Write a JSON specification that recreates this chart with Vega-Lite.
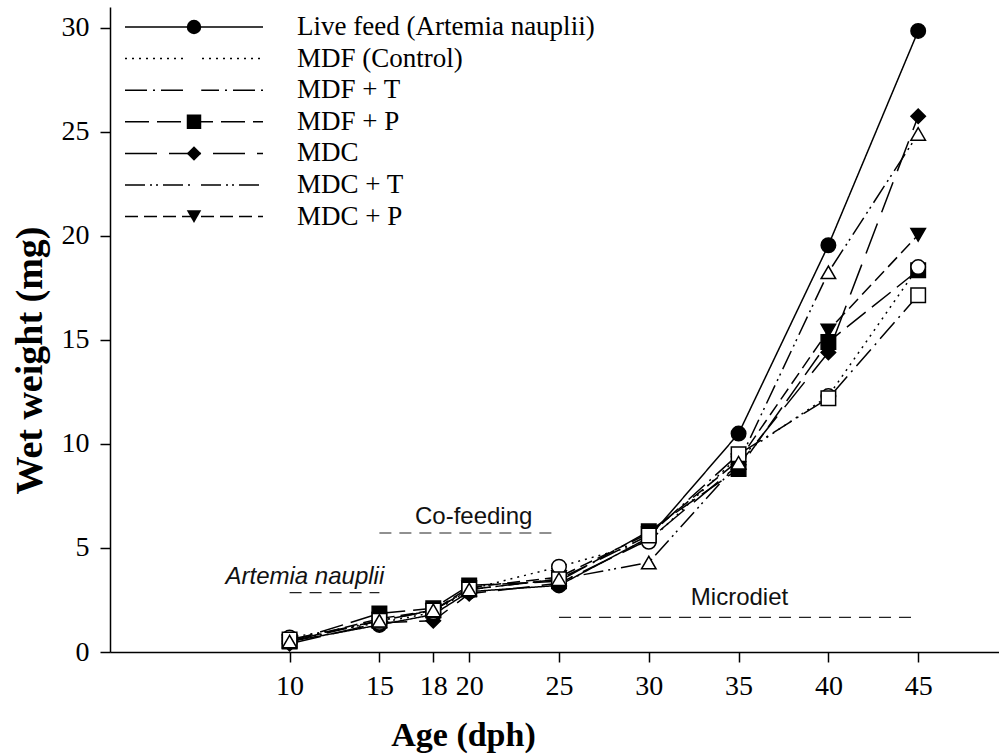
{
  "$schema": "https://vega.github.io/schema/vega-lite/v6.json",
  "width": 889,
  "height": 645,
  "autosize": {"type": "none"},
  "padding": {"left": 110, "top": 7, "right": 0, "bottom": 103},
  "background": "white",
  "config": {
    "view": {"stroke": null},
    "axis": {"grid": false, "domainColor": "black", "tickColor": "black", "domainWidth": 1.5, "tickWidth": 1.5, "labelColor": "black", "titleColor": "black", "labelFont": "Liberation Serif", "titleFont": "Liberation Serif"}
  },
  "resolve": {"scale": {"shape": "independent"}, "legend": {"shape": "independent"}},
  "datasets": {
    "growth": [
      {"age": 10, "weight": 0.5, "series": "Live feed (Artemia nauplii)"},
      {"age": 15, "weight": 1.3, "series": "Live feed (Artemia nauplii)"},
      {"age": 18, "weight": 1.8, "series": "Live feed (Artemia nauplii)"},
      {"age": 20, "weight": 2.9, "series": "Live feed (Artemia nauplii)"},
      {"age": 25, "weight": 3.2, "series": "Live feed (Artemia nauplii)"},
      {"age": 30, "weight": 5.5, "series": "Live feed (Artemia nauplii)"},
      {"age": 35, "weight": 10.5, "series": "Live feed (Artemia nauplii)"},
      {"age": 40, "weight": 19.55, "series": "Live feed (Artemia nauplii)"},
      {"age": 45, "weight": 29.85, "series": "Live feed (Artemia nauplii)"},
      {"age": 10, "weight": 0.7, "series": "MDF (Control)"},
      {"age": 15, "weight": 1.4, "series": "MDF (Control)"},
      {"age": 18, "weight": 1.9, "series": "MDF (Control)"},
      {"age": 20, "weight": 3.0, "series": "MDF (Control)"},
      {"age": 25, "weight": 4.1, "series": "MDF (Control)"},
      {"age": 30, "weight": 5.3, "series": "MDF (Control)"},
      {"age": 35, "weight": 9.4, "series": "MDF (Control)"},
      {"age": 40, "weight": 12.3, "series": "MDF (Control)"},
      {"age": 45, "weight": 18.5, "series": "MDF (Control)"},
      {"age": 10, "weight": 0.6, "series": "MDF + T"},
      {"age": 15, "weight": 1.5, "series": "MDF + T"},
      {"age": 18, "weight": 2.0, "series": "MDF + T"},
      {"age": 20, "weight": 3.0, "series": "MDF + T"},
      {"age": 25, "weight": 3.5, "series": "MDF + T"},
      {"age": 30, "weight": 5.6, "series": "MDF + T"},
      {"age": 35, "weight": 9.5, "series": "MDF + T"},
      {"age": 40, "weight": 12.2, "series": "MDF + T"},
      {"age": 45, "weight": 17.15, "series": "MDF + T"},
      {"age": 10, "weight": 0.5, "series": "MDF + P"},
      {"age": 15, "weight": 1.85, "series": "MDF + P"},
      {"age": 18, "weight": 2.1, "series": "MDF + P"},
      {"age": 20, "weight": 3.2, "series": "MDF + P"},
      {"age": 25, "weight": 3.4, "series": "MDF + P"},
      {"age": 30, "weight": 5.8, "series": "MDF + P"},
      {"age": 35, "weight": 8.8, "series": "MDF + P"},
      {"age": 40, "weight": 14.9, "series": "MDF + P"},
      {"age": 45, "weight": 18.35, "series": "MDF + P"},
      {"age": 10, "weight": 0.4, "series": "MDC"},
      {"age": 15, "weight": 1.4, "series": "MDC"},
      {"age": 18, "weight": 1.5, "series": "MDC"},
      {"age": 20, "weight": 2.8, "series": "MDC"},
      {"age": 25, "weight": 3.3, "series": "MDC"},
      {"age": 30, "weight": 5.4, "series": "MDC"},
      {"age": 35, "weight": 9.0, "series": "MDC"},
      {"age": 40, "weight": 14.4, "series": "MDC"},
      {"age": 45, "weight": 25.75, "series": "MDC"},
      {"age": 10, "weight": 0.5, "series": "MDC + T"},
      {"age": 15, "weight": 1.5, "series": "MDC + T"},
      {"age": 18, "weight": 2.0, "series": "MDC + T"},
      {"age": 20, "weight": 3.0, "series": "MDC + T"},
      {"age": 25, "weight": 3.5, "series": "MDC + T"},
      {"age": 30, "weight": 4.3, "series": "MDC + T"},
      {"age": 35, "weight": 9.1, "series": "MDC + T"},
      {"age": 40, "weight": 18.25, "series": "MDC + T"},
      {"age": 45, "weight": 24.9, "series": "MDC + T"},
      {"age": 10, "weight": 0.5, "series": "MDC + P"},
      {"age": 15, "weight": 1.6, "series": "MDC + P"},
      {"age": 18, "weight": 2.0, "series": "MDC + P"},
      {"age": 20, "weight": 3.1, "series": "MDC + P"},
      {"age": 25, "weight": 3.6, "series": "MDC + P"},
      {"age": 30, "weight": 5.7, "series": "MDC + P"},
      {"age": 35, "weight": 9.2, "series": "MDC + P"},
      {"age": 40, "weight": 15.45, "series": "MDC + P"},
      {"age": 45, "weight": 20.05, "series": "MDC + P"}
    ],
    "phases": [
      {"phase": "Artemia nauplii", "start": 10, "end": 15, "level": 2.85, "labelAge": 10.85, "labelLevel": 3.6, "italic": true},
      {"phase": "Co-feeding", "start": 15, "end": 25, "level": 5.72, "labelAge": 20.25, "labelLevel": 6.5, "italic": false},
      {"phase": "Microdiet", "start": 25, "end": 45, "level": 1.66, "labelAge": 35.05, "labelLevel": 2.6, "italic": false}
    ]
  },
  "encoding": {
    "x": {"type": "quantitative"},
    "y": {"type": "quantitative"}
  },
  "layer": [
    {
      "data": {"name": "phases"},
      "mark": {"type": "rule", "color": "#222", "strokeWidth": 1.2, "strokeDash": [12, 8]},
      "encoding": {
        "x": {"field": "start", "type": "quantitative"},
        "x2": {"field": "end"},
        "y": {"field": "level", "type": "quantitative"}
      }
    },
    {
      "data": {"name": "phases"},
      "transform": [{"filter": "!datum.italic"}],
      "mark": {"type": "text", "font": "Liberation Sans", "fontSize": 24, "color": "#111", "align": "center", "baseline": "middle"},
      "encoding": {
        "x": {"field": "labelAge", "type": "quantitative"},
        "y": {"field": "labelLevel", "type": "quantitative"},
        "text": {"field": "phase"}
      }
    },
    {
      "data": {"name": "phases"},
      "transform": [{"filter": "datum.italic"}],
      "mark": {"type": "text", "font": "Liberation Sans", "fontStyle": "italic", "fontSize": 24, "color": "#111", "align": "center", "baseline": "middle"},
      "encoding": {
        "x": {"field": "labelAge", "type": "quantitative"},
        "y": {"field": "labelLevel", "type": "quantitative"},
        "text": {"field": "phase"}
      }
    },
    {
      "data": {"name": "growth"},
      "mark": {"type": "line", "color": "black", "strokeWidth": 1.5},
      "encoding": {
        "x": {"field": "age", "type": "quantitative", "scale": {"domain": [0, 49.5], "nice": false, "zero": false},
          "axis": {"values": [10, 15, 18, 20, 25, 30, 35, 40, 45], "tickSize": 10, "labelFontSize": 28, "labelPadding": 10, "title": "Age (dph)", "titleFontSize": 34, "titleFontWeight": "bold", "titlePadding": 18, "titleX": 353}},
        "y": {"field": "weight", "type": "quantitative", "scale": {"domain": [0, 31], "nice": false},
          "axis": {"values": [0, 5, 10, 15, 20, 25, 30], "tickSize": 10, "labelFontSize": 28, "labelPadding": 11, "title": "Wet weight (mg)", "titleFontSize": 38, "titleFontWeight": "bold", "titlePadding": 12, "titleY": 353}},
        "strokeDash": {
          "field": "series", "type": "nominal",
          "scale": {
            "domain": ["Live feed (Artemia nauplii)", "MDF (Control)", "MDF + T", "MDF + P", "MDC", "MDC + T", "MDC + P"],
            "range": [[1, 0], [2, 5], [22, 6, 2, 6], [24, 8], [32, 12], [20, 5, 2, 4, 2, 5], [13, 6]]
          },
          "legend": {
            "title": null, "orient": "none", "legendX": 14, "legendY": 5, "padding": 0, "zindex": 1,
            "symbolType": "stroke", "symbolSize": 19044, "symbolStrokeWidth": 1.5, "symbolStrokeColor": "black",
            "clipHeight": 30, "rowPadding": 1.6, "labelOffset": 33, "labelFont": "Liberation Serif", "labelFontSize": 27, "labelColor": "black", "labelLimit": 500
          }
        }
      }
    },
    {
      "data": {"name": "growth"},
      "transform": [{"filter": {"not": {"field": "series", "oneOf": ["MDF (Control)", "MDF + T", "MDC + T"]}}}],
      "mark": {"type": "point", "filled": true, "color": "black", "stroke": "black", "strokeWidth": 1.5, "size": 210, "opacity": 1},
      "encoding": {
        "x": {"field": "age", "type": "quantitative"},
        "y": {"field": "weight", "type": "quantitative"},
        "shape": {
          "field": "series", "type": "nominal",
          "scale": {
            "domain": ["Live feed (Artemia nauplii)", "MDF (Control)", "MDF + T", "MDF + P", "MDC", "MDC + T", "MDC + P"],
            "range": ["circle", "M0,0", "M0,0", "square", "diamond", "M0,0", "triangle-down"]
          },
          "legend": {
            "title": null, "orient": "none", "legendX": 76, "legendY": 5, "padding": 0, "zindex": 2,
            "symbolSize": 210, "symbolStrokeWidth": 1.5, "symbolStrokeColor": "black", "symbolOpacity": 1,
            "clipHeight": 30, "rowPadding": 1.6, "labelExpr": "''", "labelFontSize": 1
          }
        }
      }
    },
    {
      "data": {"name": "growth"},
      "transform": [{"filter": {"field": "series", "oneOf": ["MDF (Control)", "MDF + T", "MDC + T"]}}],
      "mark": {"type": "point", "filled": false, "color": "black", "fill": "white", "fillOpacity": 1, "strokeWidth": 1.5, "size": 210, "opacity": 1},
      "encoding": {
        "x": {"field": "age", "type": "quantitative"},
        "y": {"field": "weight", "type": "quantitative"},
        "shape": {
          "field": "series", "type": "nominal",
          "scale": {
            "domain": ["Live feed (Artemia nauplii)", "MDF (Control)", "MDF + T", "MDF + P", "MDC", "MDC + T", "MDC + P"],
            "range": ["M0,0", "circle", "square", "M0,0", "M0,0", "triangle-up", "M0,0"]
          },
          "legend": {
            "title": null, "orient": "none", "legendX": 76, "legendY": 5, "padding": 0, "zindex": 3,
            "symbolSize": 210, "symbolStrokeWidth": 1.5, "symbolStrokeColor": "black", "symbolOpacity": 1,
            "clipHeight": 30, "rowPadding": 1.6, "labelExpr": "''", "labelFontSize": 1,
            "encode": {"symbols": {"stroke": {"value": "black"}, "strokeWidth": {"value": 1.5}, "fill": {"value": "white"}, "strokeOpacity": {"value": 1}}}
          }
        }
      }
    }
  ]
}
